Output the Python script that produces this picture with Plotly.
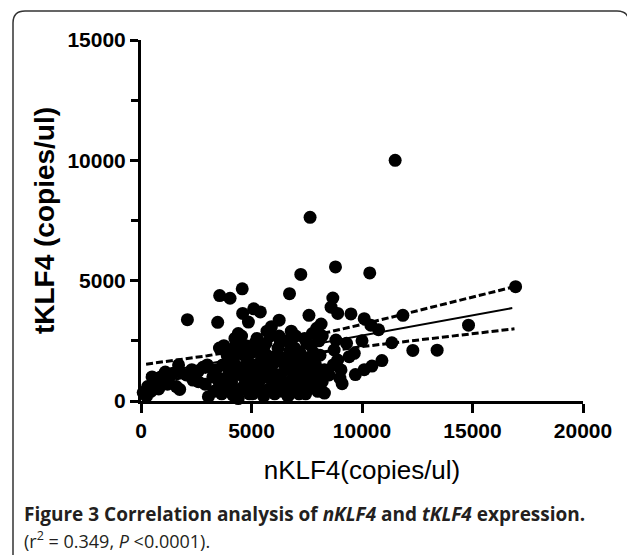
import plotly.graph_objects as go

# ---- data ----
nklf4 = [
    11500, 7650, 8800, 10350, 7230, 4580, 6720, 3560, 4030, 8680, 16950, 2100,
    3470, 4600, 5100, 5400, 4860, 5900, 6250, 7600, 7950, 8600, 8900, 9500,
    10100, 10400, 11850, 14820, 10750, 8150, 11350, 12300, 13400, 3550, 4300,
    3050, 4400, 8300, 6900, 9100, 9700, 10100, 10450, 10900,
    8820, 8740, 8900, 9050, 8510, 9420, 9650, 8200, 9300, 8700, 9000, 10000,
    100, 300, 450, 600, 250, 800, 1300, 1450, 1700, 2050, 2300, 2600, 2800,
    3250, 2350, 1600, 1750, 3550, 2900, 1100, 1700,
    3600, 3700, 3800, 3900, 3650, 4000,
    4100, 4200, 4300, 4400, 4450, 4250, 4150,
    4600, 4700, 4800, 4900, 4750, 4950, 4550,
    5050, 5100, 5200, 5300, 5400, 5250, 5450, 5150,
    5600, 5700, 5800, 5900, 5650, 5950, 5550,
    6050, 6100, 6200, 6300, 6400, 6450, 6250,
    6550, 6600, 6700, 6800, 6900, 6650, 6950,
    7050, 7100, 7200, 7300, 7400, 7450, 7250,
    7550, 7600, 7700, 7800, 7900, 7750,
    8050, 8100, 8200, 8300,
    3400, 3500, 3750, 3900, 4050, 4100, 4350, 4500, 4650, 4850, 5000, 5050,
    5150, 5350, 5500, 5550, 5750, 5850, 6000, 6050, 6150, 6300, 6350, 6500,
    6550, 6750, 6850, 7000, 7050, 7150, 7350, 7400, 7550, 7650, 7800, 7950,
    8000, 7500, 6800, 5700, 4400, 3300, 2600, 3000, 1200, 900, 500,
]
tklf4 = [
    10000, 7630, 5570, 5320, 5260, 4660, 4460, 4380, 4270, 4280, 4750, 3380,
    3270, 3640, 3830, 3700, 3280, 3090, 3360, 3560, 3020, 3900, 3640, 3620,
    3420, 3150, 3560, 3150, 2960, 3200, 2420, 2100, 2110, 2200, 2380,
    180, 100, 330, 480, 720, 1100, 1300, 1450, 1680,
    2530, 2120, 1700, 1290, 1080, 1840, 1980, 2700, 2400, 1500, 950, 2500,
    350, 600, 400, 700, 200, 500, 1000, 1150, 1250, 1080, 1300, 1250, 1400,
    1000, 870, 600, 480, 730, 700, 1200, 1500,
    900, 1500, 600, 1900, 300, 1200,
    800, 1600, 400, 2000, 1100, 2600, 250,
    1400, 700, 1800, 300, 2300, 1000, 2700,
    1500, 600, 2100, 1200, 400, 2600, 1700, 900,
    1000, 1900, 500, 1400, 2400, 800, 200,
    1600, 700, 2200, 1100, 400, 1800, 2700,
    1300, 2500, 800, 1700, 1100, 200, 2200,
    600, 1500, 2000, 900, 2600, 300, 1300,
    1800, 1100, 2300, 700, 1500, 2800,
    2500, 1900, 800, 1300,
    1300, 500, 2300, 1000, 1700, 2100, 1300, 500, 1900, 1200, 2000, 300,
    2400, 800, 1300, 2200, 1500, 2700, 1100, 300, 1900, 2500, 800, 1500,
    600, 2100, 1400, 2700, 1000, 300, 1800, 1100, 500, 1500, 2000, 1100,
    400, 2400, 2900, 2900, 2800, 400, 800, 1500, 700, 1000, 1000,
]

fit_x = [230, 16800]
fit_y = [1080, 3860]

band_x = [230, 3000, 5000, 7000, 10000, 13000, 16900]
band_upper = [1530, 1880, 2190, 2550, 3180, 3850, 4750]
band_lower = [630, 1210, 1570, 1880, 2260, 2590, 3000]

x_tick_vals = [0, 5000, 10000, 15000, 20000]
x_tick_text = ["0", "5000", "10000", "15000", "20000"]
y_tick_vals = [0, 5000, 10000, 15000]
y_tick_text = ["0", "5000", "10000", "15000"]
y_minor_vals = [2500, 7500, 12500]

x_title = "nKLF4(copies/ul)"
y_title = "<b>tKLF4 (copies/ul)</b>"
caption_1 = "<b>Figure 3 Correlation analysis of <i>nKLF4</i> and <i>tKLF4</i> expression.</b>"
caption_2 = "(r<sup>2</sup> = 0.349, <i>P</i> &lt;0.0001)."

# ---- layout geometry (page pixels; the page body adds an 8px offset) ----
OFF = 8
W, H = 627, 547
ML, MR, MT, MB = 133, 52, 32, 154
PW, PH = W - ML - MR, H - MT - MB


def px(x):
    return (x - OFF - ML) / PW


def py(y):
    return (H - MB - (y - OFF)) / PH


tick_font = dict(family="Liberation Sans, Arial", size=21, color="black", weight="bold")

fig = go.Figure()
fig.add_trace(go.Scatter(
    x=band_x, y=band_upper, mode="lines",
    line=dict(color="black", width=3, dash="7px,3px"),
    hoverinfo="skip", showlegend=False, cliponaxis=False))
fig.add_trace(go.Scatter(
    x=band_x, y=band_lower, mode="lines",
    line=dict(color="black", width=3, dash="7px,3px"),
    hoverinfo="skip", showlegend=False, cliponaxis=False))
fig.add_trace(go.Scatter(
    x=fit_x, y=fit_y, mode="lines",
    line=dict(color="black", width=2),
    hoverinfo="skip", showlegend=False, cliponaxis=False))
fig.add_trace(go.Scatter(
    x=nklf4, y=tklf4, mode="markers",
    marker=dict(color="black", size=13, line=dict(width=0)),
    showlegend=False, cliponaxis=False))

fig.update_xaxes(
    range=[0, 20000], showgrid=False, zeroline=False,
    showline=True, linecolor="black", linewidth=3,
    ticks="outside", ticklen=9, tickwidth=3, tickcolor="black",
    tickvals=x_tick_vals, ticktext=x_tick_text,
    tickfont=tick_font,
    title=dict(text=x_title, standoff=20,
               font=dict(family="Liberation Sans, Arial", size=26, color="black")),
)
fig.update_yaxes(
    range=[0, 15000], showgrid=False, zeroline=False,
    showline=True, linecolor="black", linewidth=3,
    ticks="outside", ticklen=8, tickwidth=3, tickcolor="black",
    tickvals=y_tick_vals, ticktext=y_tick_text,
    minor=dict(tickvals=y_minor_vals, ticks="outside", ticklen=7, tickwidth=3,
               tickcolor="black", showgrid=False),
    tickfont=tick_font,
    title=dict(text=y_title, standoff=5,
               font=dict(family="Liberation Sans, Arial", size=28, color="black")),
)

# rounded frame around the whole figure
x0, y0, x1, y1, r = 13, 11, 629, 575, 12
path = (f"M {px(x0)},{py(y1)} L {px(x0)},{py(y0 + r)} "
        f"Q {px(x0)},{py(y0)} {px(x0 + r)},{py(y0)} "
        f"L {px(x1 - r)},{py(y0)} Q {px(x1)},{py(y0)} {px(x1)},{py(y0 + r)} "
        f"L {px(x1)},{py(y1)}")
fig.add_shape(type="path", path=path, xref="paper", yref="paper",
              line=dict(color="#333333", width=1.5), layer="below")

fig.add_annotation(text=caption_1, xref="paper", yref="paper",
                   x=px(22), y=py(514), xanchor="left", yanchor="middle",
                   showarrow=False,
                   font=dict(family="Open Sans, Noto Sans, sans-serif", size=19, color="#231f20"))
fig.add_annotation(text=caption_2, xref="paper", yref="paper",
                   x=px(22), y=py(540), xanchor="left", yanchor="middle",
                   showarrow=False,
                   font=dict(family="Open Sans, Noto Sans, sans-serif", size=18, color="#231f20"))

fig.update_layout(
    width=W, height=H,
    margin=dict(l=ML, r=MR, t=MT, b=MB, autoexpand=False),
    paper_bgcolor="white", plot_bgcolor="white",
    showlegend=False,
)

fig.write_html("out.html")
